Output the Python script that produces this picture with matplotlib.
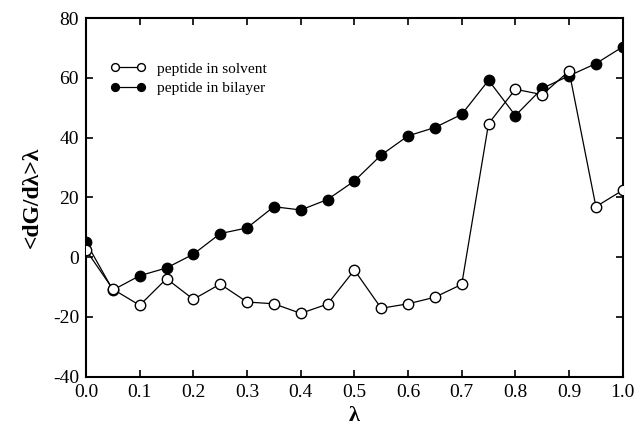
import matplotlib
matplotlib.use("Agg")
import matplotlib.pyplot as plt

lam = [0.0, 0.05, 0.1, 0.15, 0.2, 0.25, 0.3, 0.35, 0.4, 0.45, 0.5,
       0.55, 0.6, 0.65, 0.7, 0.75, 0.8, 0.85, 0.9, 0.95, 1.0]
solvent = [2.4, -10.7, -16.1, -7.2, -14.1, -9.0, -15.0, -15.6, -18.8, -15.7, -4.3,
           -17.1, -15.6, -13.4, -9.1, 44.7, 56.2, 54.4, 62.3, 16.9, 22.4]
bilayer = [5.0, -11.0, -6.2, -3.6, 1.0, 7.9, 9.8, 16.9, 15.8, 19.3, 25.5,
           34.2, 40.6, 43.4, 47.8, 59.2, 47.4, 56.5, 60.7, 64.8, 70.4]
xticks = [0.0, 0.1, 0.2, 0.3, 0.4, 0.5, 0.6, 0.7, 0.8, 0.9, 1.0]
yticks = [-40, -20, 0, 20, 40, 60, 80]

plt.rcParams['font.family'] = ['Liberation Serif', 'DejaVu Serif']
plt.rcParams['axes.unicode_minus'] = False
fig = plt.figure(figsize=(6.42, 4.32), dpi=100)
ax = fig.add_axes([0.134, 0.128, 0.836, 0.830])

ax.plot(lam, solvent, '-o', color='black', lw=0.9, markersize=7.5,
        markerfacecolor='white', markeredgecolor='black', markeredgewidth=1.0,
        label='peptide in solvent', zorder=3)
ax.plot(lam, bilayer, '-o', color='black', lw=0.9, markersize=7.5,
        markerfacecolor='black', markeredgecolor='black',
        label='peptide in bilayer', zorder=2)

ax.set_xlim(0, 1.0)
ax.set_ylim(-40, 80)
ax.set_xticks(xticks)
ax.set_xticklabels([f"{t:.1f}" for t in xticks])
ax.set_yticks(yticks)
ax.tick_params(direction='in', top=True, right=True, length=5, width=1.2,
               labelsize=14, pad=5)
for s in ax.spines.values():
    s.set_linewidth(1.5)

ax.set_xlabel('λ', fontsize=16, fontweight='bold', labelpad=4)
ax.set_ylabel('<dG/dλ>λ', fontsize=17, fontweight='bold', labelpad=7)

leg = ax.legend(loc='upper left', bbox_to_anchor=(0.0455, 0.878), frameon=False,
                fontsize=11.1, numpoints=2, markerscale=0.75,
                handlelength=2.29, handletextpad=0.72,
                labelspacing=0.38, borderpad=0.0, borderaxespad=0.0)

fig.savefig('out.png', dpi=100)
